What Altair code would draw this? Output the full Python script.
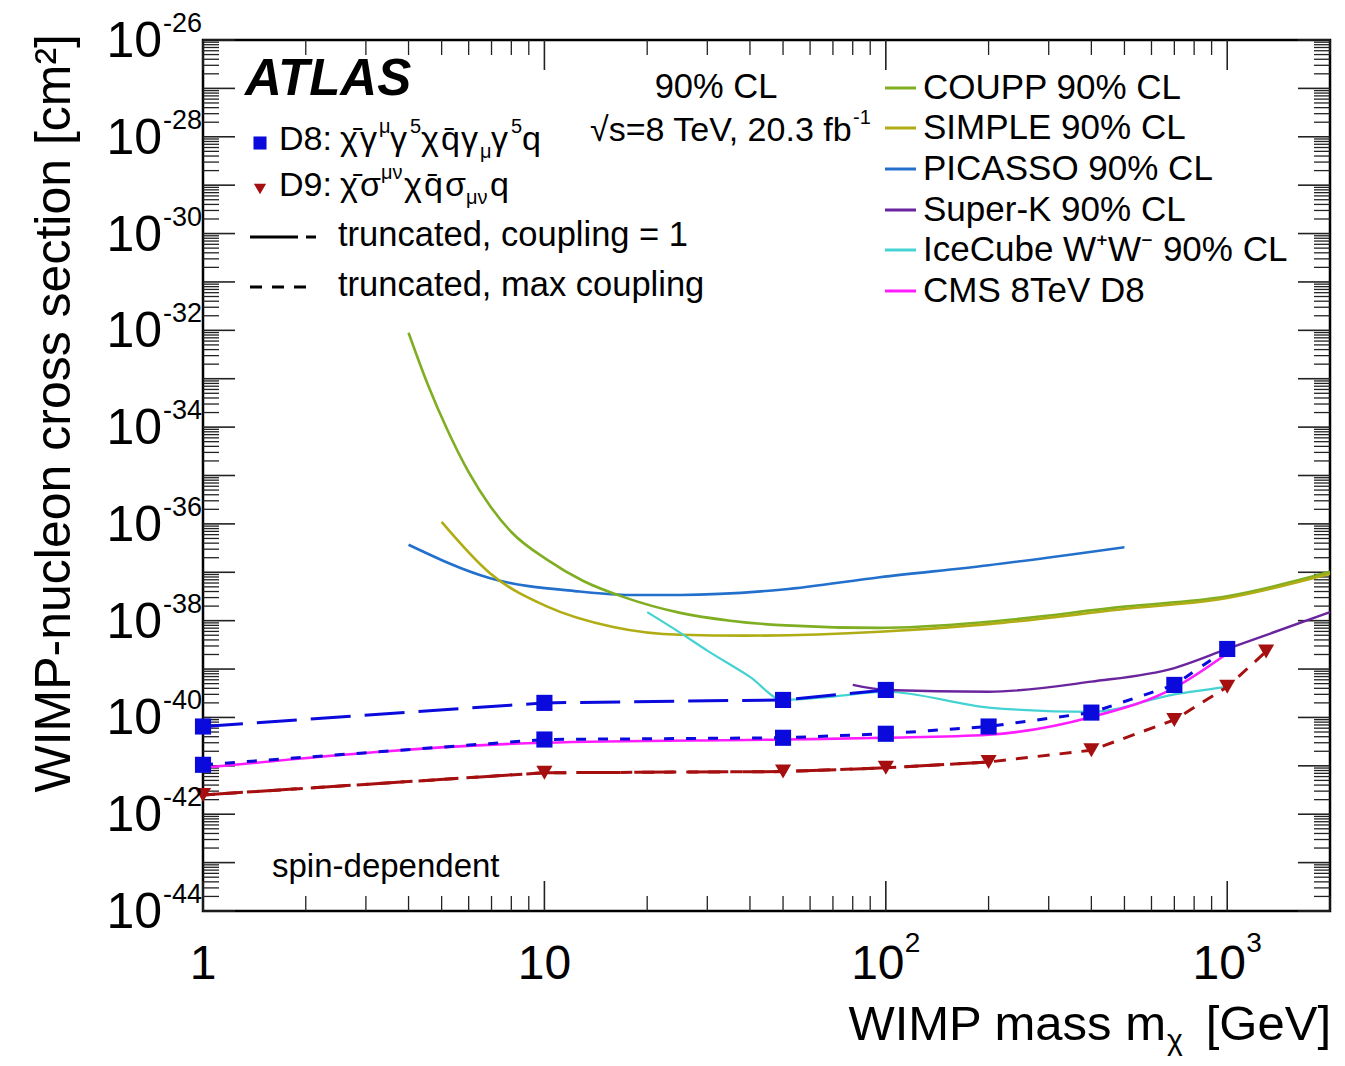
import altair as alt
import pandas as pd

FONT = "Liberation Sans"
W, H = 1127, 871          # plot area
X0, Y0 = 203, 40          # page position of plot area's top-left

# ---------------- data ----------------
coupp_m = [4, 4.56, 5.2, 6.0, 6.9, 8.0, 10.2, 13, 17, 25, 35, 49, 96, 200, 500, 1000, 2000]
coupp_s = [8.9e-33, 7.4e-34, 8.7e-35, 1.17e-35, 2.45e-36, 6.8e-37, 1.8e-37, 6.6e-38, 3.1e-38, 1.45e-38,
           1.0e-38, 8.1e-39, 7.1e-39, 9.5e-39, 1.95e-38, 3.2e-38, 1.02e-37]

simple_m = [5.0, 6.9, 10.2, 15.9, 25, 39, 96, 200, 500, 1000, 2000]
simple_s = [1.1e-36, 9.8e-38, 1.95e-38, 7.4e-39, 5.1e-39, 4.9e-39, 5.9e-39, 8.5e-39, 1.74e-38, 2.95e-38, 9.3e-38]

picasso_m = [4, 6.9, 12.7, 17.8, 25, 50, 96, 200, 500]
picasso_s = [3.7e-37, 7.6e-38, 4.0e-38, 3.4e-38, 3.4e-38, 4.4e-38, 7.9e-38, 1.4e-37, 3.3e-37]

superk_m = [80, 100, 200, 400, 700, 1000, 2000]
superk_s = [4.7e-40, 3.7e-40, 3.4e-40, 5.5e-40, 1.05e-39, 2.6e-39, 1.5e-38]

icecube_m = [20, 25, 30, 40, 50, 70, 100, 200, 400, 700, 1000]
icecube_s = [1.5e-38, 5.6e-39, 2.4e-39, 6.9e-40, 2.3e-40, 2.7e-40, 3.4e-40, 1.6e-40, 1.3e-40, 3.0e-40, 4.3e-40]

cms_m = [1, 10, 50, 100, 200, 400, 700, 1000]
cms_s = [9.1e-42, 3.0e-41, 3.5e-41, 3.8e-41, 4.4e-41, 1.02e-40, 4.1e-40, 2.1e-39]

d8_c1_m = [1, 10, 50, 100]
d8_c1_s = [6.5e-41, 2.0e-40, 2.3e-40, 3.7e-40]
d8_max_m = [1, 10, 50, 100, 200, 400, 700, 1000]
d8_max_s = [1.05e-41, 3.5e-41, 3.8e-41, 4.6e-41, 6.5e-41, 1.26e-40, 4.7e-40, 2.6e-39]

d9_c1_m = [1, 10, 50, 100, 200]
d9_c1_s = [2.5e-42, 7.2e-42, 7.6e-42, 9.1e-42, 1.2e-41]
d9_max_m = [1, 10, 50, 100, 200, 400, 700, 1000, 1300]
d9_max_s = [2.5e-42, 7.2e-42, 7.6e-42, 9.1e-42, 1.2e-41, 2.1e-41, 8.9e-41, 4.3e-40, 2.3e-39]

# axis labels
y_label_exps = [-26, -28, -30, -32, -34, -36, -38, -40, -42, -44]
x_label_vals = [1, 10, 100, 1000]
x_label_base = ["1", "10", "10", "10"]
x_label_exp = ["", "", "2", "3"]

legend_names = ["COUPP 90% CL", "SIMPLE 90% CL", "PICASSO 90% CL", "Super-K 90% CL",
                "IceCube W\u207aW\u207b 90% CL", "CMS 8TeV D8"]

# ---------------- styles ----------------
C_COUPP = "#7fae22"
C_SIMPLE = "#b0ad14"
C_PICASSO = "#2270cc"
C_SUPERK = "#6a259e"
C_ICE = "#45d2d2"
C_CMS = "#ff1dff"
C_D8 = "#0a0add"
C_D9 = "#a50f0f"

xs = alt.Scale(type="log", domain=[1, 2000], nice=False)
ys = alt.Scale(type="log", domain=[1e-44, 1e-26], nice=False)


def curve(m, s, color, width=2.6, dash=None, interp="monotone"):
    df = pd.DataFrame({"m": m, "s": s})
    kw = dict(color=color, strokeWidth=width, interpolate=interp)
    if dash:
        kw["strokeDash"] = dash
    return alt.Chart(df).mark_line(**kw).encode(
        x=alt.X("m:Q", scale=xs, axis=None),
        y=alt.Y("s:Q", scale=ys, axis=None),
        order="m:Q",
    )


def markers(m, s, shape, color, size):
    df = pd.DataFrame({"m": m, "s": s})
    return alt.Chart(df).mark_point(shape=shape, filled=True, opacity=1, size=size, color=color).encode(
        x=alt.X("m:Q", scale=xs, axis=None),
        y=alt.Y("s:Q", scale=ys, axis=None),
    )


one = pd.DataFrame({"k": [0]})


def txt(s, px, py, size=34, align="left", baseline="middle", color="black", **kw):
    return alt.Chart(one).mark_text(text=s, font=FONT, fontSize=size, align=align,
                                    baseline=baseline, color=color, **kw).encode(
        x=alt.value(px - X0), y=alt.value(py - Y0))


def seg(px1, px2, py, color, width=3.0, dash=None):
    kw = dict(color=color, strokeWidth=width)
    if dash:
        kw["strokeDash"] = dash
    return alt.Chart(one).mark_rule(**kw).encode(
        x=alt.value(px1 - X0), x2=alt.value(px2 - X0), y=alt.value(py - Y0))


def pt(px, py, shape, color, size):
    return alt.Chart(one).mark_point(shape=shape, filled=True, opacity=1, color=color, size=size).encode(
        x=alt.value(px - X0), y=alt.value(py - Y0))


# ---------------- ticks (inward, all four sides) ----------------
x_major = [1, 10, 100, 1000]
x_minor = [k * 10 ** n for n in range(0, 4) for k in range(2, 10) if k * 10 ** n <= 2000]
y_major = [10.0 ** e for e in range(-44, -25)]
y_minor = [k * 10.0 ** e for e in range(-44, -26) for k in range(2, 10)]

TICK_C = "#222222"


def xticks(vals, length, width):
    df = pd.DataFrame({"v": vals})
    base = alt.Chart(df).mark_rule(color=TICK_C, strokeWidth=width)
    bot = base.encode(x=alt.X("v:Q", scale=xs, axis=None), y=alt.value(H), y2=alt.value(H - length))
    top = base.encode(x=alt.X("v:Q", scale=xs, axis=None), y=alt.value(0), y2=alt.value(length))
    return [bot, top]


def yticks(vals, length, width):
    df = pd.DataFrame({"v": vals})
    base = alt.Chart(df).mark_rule(color=TICK_C, strokeWidth=width)
    left = base.encode(y=alt.Y("v:Q", scale=ys, axis=None), x=alt.value(0), x2=alt.value(length))
    right = base.encode(y=alt.Y("v:Q", scale=ys, axis=None), x=alt.value(W), x2=alt.value(W - length))
    return [left, right]


ticks = xticks(x_major, 30, 1.6) + xticks(x_minor, 15, 1.3) + yticks(y_major, 32, 1.6) + yticks(y_minor, 16, 1.3)

# ---------------- tick labels ----------------
ydf = pd.DataFrame({"v": [10.0 ** e for e in y_label_exps], "e": [str(e) for e in y_label_exps]})
ylab_base = alt.Chart(ydf).mark_text(text="10", font=FONT, fontSize=50, align="right", baseline="middle", dy=2).encode(
    y=alt.Y("v:Q", scale=ys, axis=None), x=alt.value(162 - X0))
ylab_exp = alt.Chart(ydf).mark_text(font=FONT, fontSize=27, align="left", baseline="middle", dy=-16).encode(
    y=alt.Y("v:Q", scale=ys, axis=None), x=alt.value(163 - X0), text="e:N")

xdf = pd.DataFrame({"v": x_label_vals, "b": x_label_base, "e": x_label_exp})
xdf_plain = xdf[xdf["e"] == ""]
xdf_exp = xdf[xdf["e"] != ""]
xlab_plain = alt.Chart(xdf_plain).mark_text(font=FONT, fontSize=48, align="center", baseline="middle").encode(
    x=alt.X("v:Q", scale=xs, axis=None), y=alt.value(965 - Y0), text="b:N")
xlab_base = alt.Chart(xdf_exp).mark_text(font=FONT, fontSize=48, align="center", baseline="middle", dx=-8).encode(
    x=alt.X("v:Q", scale=xs, axis=None), y=alt.value(965 - Y0), text="b:N")
xlab_exp = alt.Chart(xdf_exp).mark_text(font=FONT, fontSize=28, align="left", baseline="middle", dx=19, dy=-21).encode(
    x=alt.X("v:Q", scale=xs, axis=None), y=alt.value(965 - Y0), text="e:N")

# ---------------- curves ----------------
layers = [
    curve(picasso_m, picasso_s, C_PICASSO),
    curve(coupp_m, coupp_s, C_COUPP),
    curve(simple_m, simple_s, C_SIMPLE),
    curve(icecube_m, icecube_s, C_ICE, width=2.2),
    curve(superk_m, superk_s, C_SUPERK, width=2.4),
    curve(cms_m, cms_s, C_CMS, width=2.6),
    curve(d9_max_m, d9_max_s, C_D9, width=3, dash=[12, 10], interp="linear"),
    curve(d9_c1_m, d9_c1_s, C_D9, width=3, dash=[40, 14], interp="linear"),
    curve(d8_max_m, d8_max_s, C_D8, width=3, dash=[10, 12], interp="linear"),
    curve(d8_c1_m, d8_c1_s, C_D8, width=3, dash=[40, 14], interp="linear"),
    markers(d9_max_m, d9_max_s, "triangle-down", C_D9, 260),
    markers(d8_max_m, d8_max_s, "square", C_D8, 260),
    markers(d8_c1_m, d8_c1_s, "square", C_D8, 260),
]

# ---------------- annotations ----------------
ann = []
ann.append(txt("ATLAS", 245, 80, size=51, fontWeight="bold", fontStyle="italic"))
ann.append(txt("90% CL", 716, 88, size=34.5, align="center"))
ann.append(txt("\u221as=8 TeV, 20.3 fb", 590, 131, size=34))
ann.append(txt("-1", 853, 118, size=20))

# D8 legend entry
ann.append(pt(260, 143, "square", C_D8, 170))
y8 = 140
for s, x, dy, fs in [("D8:", 279, 0, 34), ("\u03c7\u0304", 340, 0, 34), ("\u03b3", 360, 0, 34),
                     ("\u03bc", 379, -13, 20), ("\u03b3", 390, 0, 34), ("5", 410, -13, 20),
                     ("\u03c7", 421, 0, 34), ("q\u0304", 441, 0, 34), ("\u03b3", 461, 0, 34),
                     ("\u03bc", 480, 12, 20), ("\u03b3", 491, 0, 34), ("5", 511, -13, 20),
                     ("q", 522, 0, 34)]:
    ann.append(txt(s, x, y8 + dy, size=fs))

# D9 legend entry
ann.append(pt(260, 189, "triangle-down", C_D9, 150))
y9 = 186
for s, x, dy, fs in [("D9:", 279, 0, 34), ("\u03c7\u0304", 340, 0, 34), ("\u03c3", 360, 0, 34),
                     ("\u03bc\u03bd", 381, -13, 20), ("\u03c7", 404, 0, 34), ("q\u0304", 424, 0, 34),
                     ("\u03c3", 445, 0, 34), ("\u03bc\u03bd", 466, 12, 20), ("q", 490, 0, 34)]:
    ann.append(txt(s, x, y9 + dy, size=fs))

ann.append(seg(250, 318, 237, "black", 3, dash=[48, 8, 10, 30]))
ann.append(txt("truncated, coupling = 1", 338, 236, size=34.5))
ann.append(seg(250, 316, 287, "black", 3, dash=[12, 10]))
ann.append(txt("truncated, max coupling", 338, 286, size=34.5))

# right legend
leg_colors = [C_COUPP, C_SIMPLE, C_PICASSO, C_SUPERK, C_ICE, C_CMS]
leg_y = [88, 128, 169, 210, 250, 291]
for name, col, yy in zip(legend_names, leg_colors, leg_y):
    ann.append(seg(885, 916, yy, col, 3))
    ann.append(txt(name, 923, yy, size=35))

ann.append(txt("spin-dependent", 272, 867, size=33))

# axis titles
ann.append(txt("WIMP-nucleon cross section [cm\u00b2]", 55, 34, size=50, align="right", angle=270))
ann.append(txt("WIMP mass m", 1166, 1025, size=49, align="right"))
ann.append(txt("\u03c7", 1167, 1041, size=30))
ann.append(txt("[GeV]", 1331, 1025, size=49, align="right"))

chart = alt.layer(*ticks, *layers, ylab_base, ylab_exp, xlab_plain, xlab_base, xlab_exp, *ann).properties(
    width=W, height=H,
    padding={"left": X0 - 8, "top": Y0 - 8, "right": 1345 - 16 - (X0 - 8) - W, "bottom": 1066 - 16 - (Y0 - 8) - H},
    autosize=alt.AutoSizeParams(type="none"),
    background="white",
).configure_view(stroke="black", strokeWidth=2.5)

chart.save("out.html", embed_options={"renderer": "svg", "actions": False})
